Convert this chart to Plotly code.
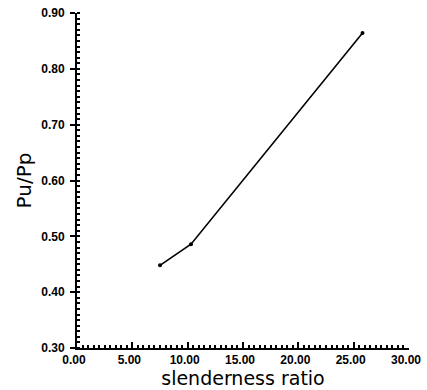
import plotly.graph_objects as go

slenderness = [7.5, 10.3, 25.8]
pu_pp = [0.448, 0.486, 0.864]

x_ticks = [0, 5, 10, 15, 20, 25, 30]
y_ticks = [0.30, 0.40, 0.50, 0.60, 0.70, 0.80, 0.90]

fig = go.Figure()
fig.add_trace(go.Scatter(
    x=slenderness, y=pu_pp, mode="lines+markers",
    line=dict(color="black", width=1.6),
    marker=dict(color="black", size=4),
    showlegend=False,
    cliponaxis=False,
))

tickfont = dict(family="Liberation Sans", size=12, color="black", weight="bold")
titlefont = dict(family="DejaVu Sans", size=19, color="black")

fig.update_layout(
    width=427, height=390,
    margin=dict(l=77, r=18, t=13, b=42, autoexpand=False),
    paper_bgcolor="white", plot_bgcolor="white",
    xaxis=dict(
        range=[0, 30], tickvals=x_ticks, tickformat=".2f",
        showgrid=False, zeroline=False, automargin=False,
        showline=True, linecolor="black", linewidth=2,
        ticks="inside", ticklen=6, tickwidth=1.5, tickcolor="black",
        minor=dict(dtick=0.5, ticks="inside", ticklen=3, tickwidth=1.5, tickcolor="black", showgrid=False),
        tickfont=tickfont, ticklabelshift=-3, ticklabelstandoff=0,
        title=dict(text="slenderness ratio", font=titlefont, standoff=3),
    ),
    yaxis=dict(
        range=[0.30, 0.90], tickvals=y_ticks, tickformat=".2f",
        showgrid=False, zeroline=False, automargin=False,
        showline=True, linecolor="black", linewidth=2,
        ticks="outside", ticklen=5, tickwidth=1.5, tickcolor="black",
        minor=dict(dtick=0.01, ticks="inside", ticklen=3, tickwidth=1.5, tickcolor="black", showgrid=False),
        tickfont=tickfont, ticklabelstandoff=3,
        title=dict(text="Pu/Pp", font=dict(family="DejaVu Sans", size=20, color="black"), standoff=4),
    ),
)

fig.write_html("out.html", config={"displayModeBar": False},
               post_script="document.body.style.margin='0';document.body.style.overflow='hidden';")
